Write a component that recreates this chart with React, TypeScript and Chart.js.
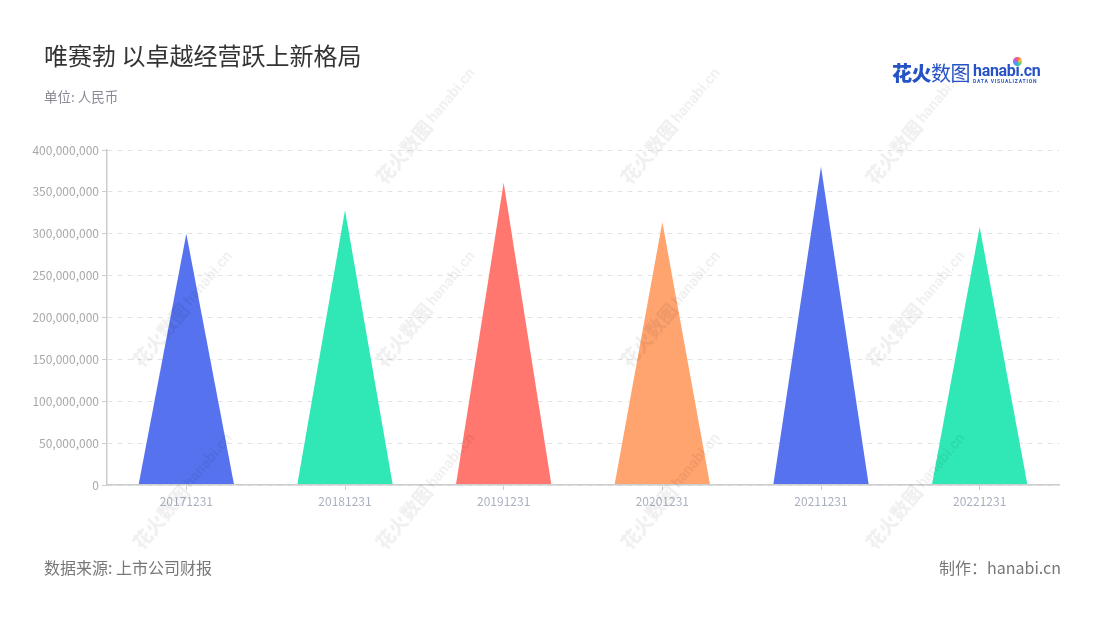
import React, { useEffect, useRef } from "react";
import { Chart, registerables } from "chart.js";

Chart.register(...registerables);

const categories = ["20171231", "20181231", "20191231", "20201231", "20211231", "20221231"];
const values = [300000000, 328000000, 361000000, 314000000, 380000000, 308000000];
const barColors = ["#5672EE", "#2FE8B5", "#FF776F", "#FFA36F", "#5672EE", "#2FE8B5"];
const yTicks = [0, 50000000, 100000000, 150000000, 200000000, 250000000, 300000000, 350000000, 400000000];

const FONT = '"Noto Sans CJK SC", "Noto Sans", sans-serif';

const watermarkSpots: [number, number][] = [
  [425, 125], [670, 125], [915, 125],
  [182, 308], [425, 308], [670, 308], [915, 308],
  [182, 490], [425, 490], [670, 490], [915, 490],
];

const trianglePlugin = {
  id: "triangles",
  afterDatasetsDraw(chart: any) {
    const meta = chart.getDatasetMeta(0);
    const ctx = chart.ctx;
    meta.data.forEach((bar: any, i: number) => {
      const { x, y, base, width } = bar.getProps(["x", "y", "base", "width"], true);
      ctx.save();
      ctx.fillStyle = barColors[i % barColors.length];
      ctx.beginPath();
      ctx.moveTo(x - width / 2, base - 0.5);
      ctx.lineTo(x, y);
      ctx.lineTo(x + width / 2, base - 0.5);
      ctx.closePath();
      ctx.fill();
      ctx.restore();
    });
  },
};

export default function App() {
  const ref = useRef<HTMLCanvasElement | null>(null);

  useEffect(() => {
    if (!ref.current) return;
    const chart = new Chart(ref.current, {
      type: "bar",
      data: {
        labels: categories,
        datasets: [
          {
            data: values,
            backgroundColor: "rgba(0,0,0,0)",
            borderWidth: 0,
            barPercentage: 0.6,
            categoryPercentage: 1,
          },
        ],
      },
      options: {
        animation: false,
        responsive: false,
        devicePixelRatio: 1,
        layout: { padding: { left: 0, right: 41, top: 150, bottom: 105 } },
        plugins: { legend: { display: false }, tooltip: { enabled: false }, title: { display: false } },
        scales: {
          x: {
            offset: true,
            grid: {
              offset: false,
              drawOnChartArea: false,
              drawTicks: true,
              tickLength: 5,
              tickColor: "#cccccc",
              color: "#cccccc",
            },
            border: { color: "#cccccc", width: 1.5 },
            ticks: {
              color: "#aab0c0",
              font: { family: FONT, size: 12 },
              padding: 4,
              maxRotation: 0,
            },
            afterFit(scale: any) {
              scale.height = 30;
            },
          },
          y: {
            min: 0,
            max: 400000000,
            afterBuildTicks(scale: any) {
              scale.ticks = yTicks.map((v) => ({ value: v }));
            },
            grid: {
              color: "#e2e2e2",
              lineWidth: 1,
              drawTicks: true,
              tickLength: 5,
              tickColor: "#cccccc",
              tickBorderDash: [],
            },
            border: { display: true, color: "#cccccc", width: 1.5, dash: [5, 5] },
            ticks: {
              color: "#a8a8a8",
              font: { family: FONT, size: 12 },
              padding: 3,
              callback: (v: any) => Number(v).toLocaleString("en-US"),
            },
            afterFit(scale: any) {
              scale.width = 107;
            },
          },
        },
      },
      plugins: [trianglePlugin],
    });
    return () => chart.destroy();
  }, []);

  return (
    <div style={{ position: "fixed", left: 0, top: 0, width: 1100, height: 620, background: "#fff", overflow: "hidden", fontFamily: FONT }}>
      <canvas ref={ref} width={1100} height={620} style={{ position: "absolute", left: 0, top: 0 }} />
      <div style={{ position: "absolute", left: 44, top: 39, fontSize: 24, color: "#333", lineHeight: "32px", whiteSpace: "nowrap" }}>
        唯赛勃 以卓越经营跃上新格局
      </div>
      <div style={{ position: "absolute", left: 44, top: 86, fontSize: 13.5, color: "#8a8a96", lineHeight: "20px", whiteSpace: "nowrap" }}>
        单位: 人民币
      </div>
      <div style={{ position: "absolute", left: 44, top: 555, fontSize: 16, color: "#777", lineHeight: "24px", whiteSpace: "nowrap" }}>
        数据来源: 上市公司财报
      </div>
      <div style={{ position: "absolute", right: 39, top: 555, fontSize: 16, color: "#777", lineHeight: "24px", whiteSpace: "nowrap" }}>
        制作：hanabi.cn
      </div>
      {/* logo */}
      <div style={{ position: "absolute", left: 892, top: 60, whiteSpace: "nowrap", display: "flex", alignItems: "center" }}>
        <span style={{ fontSize: 20, fontWeight: 900, color: "#2553c6", lineHeight: "26px", letterSpacing: -0.5 }}>花火</span>
        <span style={{ fontSize: 20, fontWeight: 400, color: "#2553c6", lineHeight: "26px", letterSpacing: -0.5 }}>数图</span>
        <span style={{ display: "inline-flex", flexDirection: "column", marginLeft: 3, position: "relative" }}>
          <span style={{ fontSize: 16, fontWeight: 700, color: "#2553c6", lineHeight: "15px", fontFamily: "Roboto, sans-serif", letterSpacing: -0.3 }}>hanabi.cn</span>
          <span style={{ fontSize: 5, color: "#2553c6", lineHeight: "6px", letterSpacing: 0.8, fontFamily: "Roboto, sans-serif", fontWeight: 700 }}>DATA VISUALIZATION</span>
          <span style={{ position: "absolute", left: 40, top: -6, width: 9, height: 9, borderRadius: 5, background: "conic-gradient(#ff5a5a, #ffc23a, #48d17a, #3aa0ff, #b05cff, #ff5a5a)" }} />
        </span>
      </div>
      {watermarkSpots.map(([x, y], i) => (
        <div
          key={i}
          style={{
            position: "absolute",
            left: x,
            top: y,
            transform: "translate(-50%, -50%) rotate(-50deg)",
            whiteSpace: "nowrap",
            color: "rgba(0,0,0,0.06)",
            pointerEvents: "none",
            display: "flex",
            alignItems: "center",
          }}
        >
          <span style={{ fontSize: 19, fontWeight: 900 }}>花火数图</span>
          <span style={{ fontSize: 15, fontWeight: 700, marginLeft: 3, fontFamily: "Roboto, sans-serif" }}>hanabi.cn</span>
        </div>
      ))}
    </div>
  );
}
